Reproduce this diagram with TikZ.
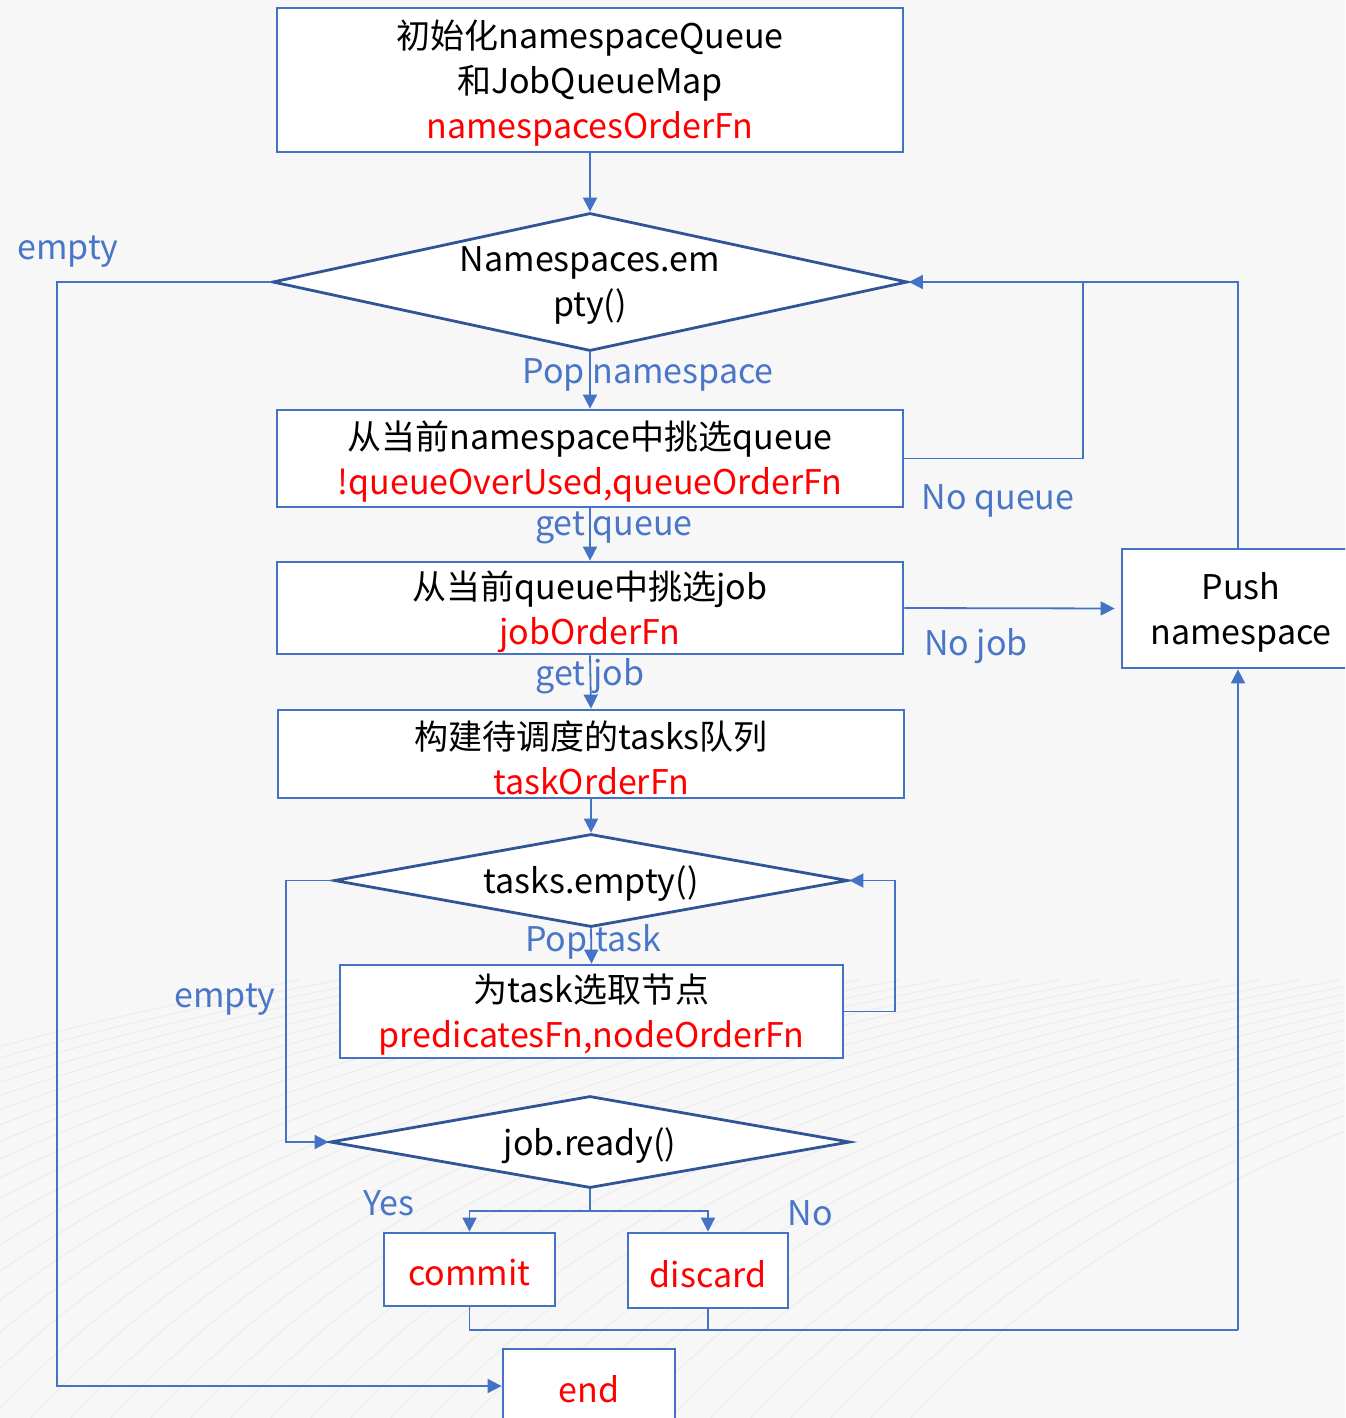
\documentclass[tikz,border=0pt]{standalone}
\usepackage{fontspec}
\setmainfont{Noto Sans CJK SC}
\usetikzlibrary{arrows.meta,shapes.geometric}
\definecolor{boxblue}{HTML}{4472C4}
\definecolor{diablue}{HTML}{2F5597}
\definecolor{lblblue}{HTML}{4A76C8}
\definecolor{fnred}{HTML}{FF0000}
\definecolor{paper}{HTML}{F7F7F7}
\definecolor{swirl}{HTML}{ECECEC}
\begin{document}
\begin{tikzpicture}[x=0.5pt,y=-0.5pt,
  every node/.style={font=\fontsize{17}{22.5}\selectfont},
  procbox/.style={draw=boxblue,line width=1.4pt,fill=white,rectangle,inner sep=0pt},
  decision/.style={draw=diablue,line width=1.4pt,fill=white,diamond,inner sep=0pt},
  boxtext/.style={align=center,inner sep=0pt,yshift=-1.75pt},
  edgelbl/.style={text=lblblue,inner sep=0pt,yshift=-1.75pt},
  link/.style={draw=boxblue,line width=0.9pt},
  arr/.style={link,-{Triangle[length=7pt,width=7pt]}},
  fn/.style={text=fnred}
]
\clip (0,0) rectangle (1345,1418);
\fill[paper] (0,0) rectangle (1345,1418);

% faint sweeping lines of the backdrop
\foreach \s in {-700,-660,...,900}{
  \draw[swirl,line width=0.5pt] (\s,1430) .. controls (\s+180,1230) and (\s+450,1080) .. (\s+1000,980);
}

% process boxes
\node[procbox,minimum width=313pt,minimum height=72pt] (b1) at (590,80) {};
\node[procbox,minimum width=313pt,minimum height=48.5pt] (b2) at (590,458.5) {};
\node[procbox,minimum width=313pt,minimum height=46pt] (b3) at (590,608) {};
\node[procbox,minimum width=313pt,minimum height=44pt] (b4) at (591,754) {};
\node[procbox,minimum width=251.5pt,minimum height=46.5pt] (b5) at (591.5,1011.5) {};
\node[procbox,minimum width=116pt,minimum height=59.5pt] (push) at (1238,608.5) {};
\node[procbox,minimum width=85.5pt,minimum height=36.5pt] (commit) at (469.5,1269.5) {};
\node[procbox,minimum width=80pt,minimum height=37.5pt] (discard) at (708,1270.5) {};
\node[procbox,minimum width=86pt,minimum height=37pt] (endb) at (589,1386) {};

\node[boxtext] (b1t) at (b1) {初始化namespaceQueue\\和JobQueueMap\\\textcolor{fnred}{namespacesOrderFn}};
\node[boxtext] (b2t) at (b2) {从当前namespace中挑选queue\\\textcolor{fnred}{!queueOverUsed,queueOrderFn}};
\node[boxtext] (b3t) at (b3) {从当前queue中挑选job\\\textcolor{fnred}{jobOrderFn}};
\node[boxtext] (b4t) at (b4) {构建待调度的tasks队列\\\textcolor{fnred}{taskOrderFn}};
\node[boxtext] (b5t) at (b5) {为task选取节点\\\textcolor{fnred}{predicatesFn,nodeOrderFn}};
\node[boxtext] (pusht) at ([xshift=1.5pt]push.center) {Push\\namespace};
\node[boxtext,fn] (committ) at (commit) {commit};
\node[boxtext,fn] (discardt) at (discard) {discard};
\node[boxtext,fn] (endt) at (endb) {end};

% decisions
\node[decision,minimum width=317.5pt,minimum height=69pt] (d1) at (590,282) {};
\node[boxtext] (d1t) at (d1) {Namespaces.em\\pty()};
\node[decision,minimum width=257pt,minimum height=46.5pt] (d2) at (591,880.5) {};
\node[boxtext] (d2t) at (d2) {tasks.empty()};
\node[decision,minimum width=260pt,minimum height=46pt] (d3) at (590,1142) {};
\node[boxtext] (d3t) at (d3) {job.ready()};

% bend points
\coordinate (eL) at (57,282);
\coordinate (qR) at (1083,282);
\coordinate (tR) at (895,880.5);
\coordinate (tL) at (286,880.5);
\coordinate (split) at (590,1211);
\coordinate (jn) at (1238,1330);

% connectors
\draw[arr] (b1.south) -- (d1.north);
\draw[arr] (d1.south) -- (b2.north);
\draw[arr] (b2.south) -- (b3.north);
\draw[arr] (b3.south) -- (b4.north);
\draw[arr] (b4.south) -- (d2.north);
\draw[arr] (d2.south) -- (b5.north);
\draw[arr] (d1.west) -- (eL) |- (endb.west);
\draw[arr] (b2.east) -| (qR) -- (d1.east);
\draw[link] (push.north) |- (qR);
\draw[arr,shorten >=3pt] (b3.east) -- (push.west);
\draw[arr] (b5.east) -| (tR) -- (d2.east);
\draw[arr] (d2.west) -- (tL) |- (d3.west);
\draw[link] (d3.south) -- (split);
\draw[arr] (split) -| (commit.north);
\draw[arr] (split) -| (discard.north);
\draw[link] (commit.south) |- (jn);
\draw[link] (discard.south) -- (discard.south |- jn);
\draw[arr] (jn) -- (push.south);

% connector labels
\node[edgelbl] (lEmpty1) at (68,248) {empty};
\node[edgelbl] (lPopNs) at (648,371) {Pop namespace};
\node[edgelbl] (lNoQ) at (998,497) {No queue};
\node[edgelbl] (lGetQ) at (614,524) {get queue};
\node[edgelbl] (lNoJob) at (976,643) {No job};
\node[edgelbl] (lGetJob) at (590,673) {get job};
\node[edgelbl] (lPopTask) at (593,938) {Pop task};
\node[edgelbl] (lEmpty2) at (225,996) {empty};
\node[edgelbl] (lYes) at (389,1200) {Yes};
\node[edgelbl] (lNo) at (810,1210) {No};
\end{tikzpicture}
\end{document}
